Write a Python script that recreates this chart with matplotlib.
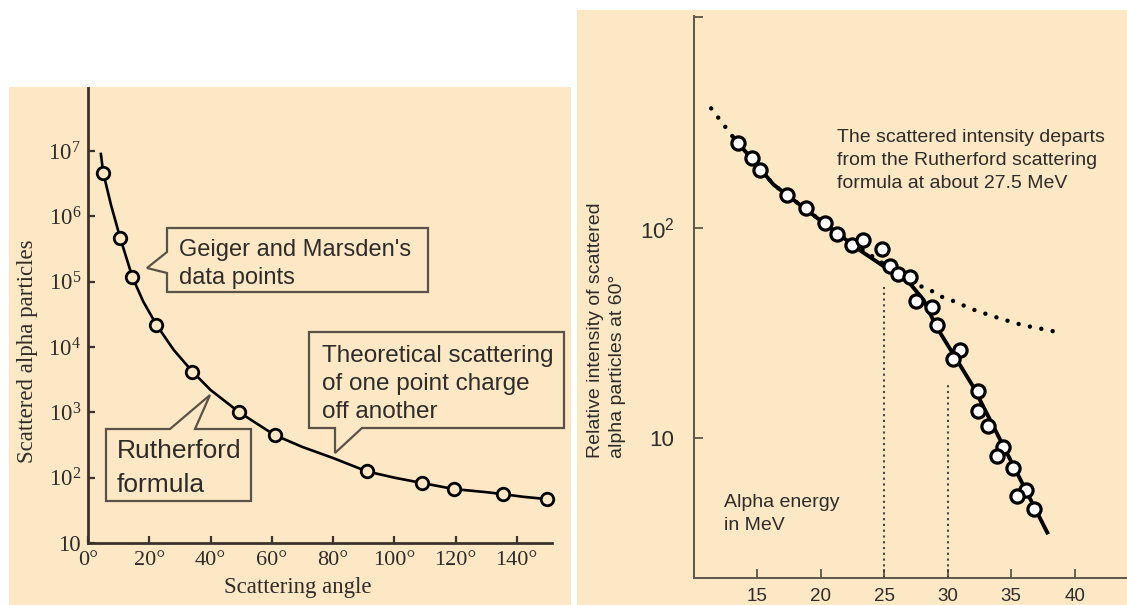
import matplotlib
matplotlib.use("Agg")
import matplotlib.pyplot as plt
from matplotlib.patches import Rectangle, Polygon
from matplotlib.ticker import NullLocator

W, H = 1127, 605
BEIGE = "#fde8c6"
INK = "#2e2b28"
AXIS_L = "#3b332b"
AXIS_R = "#5e564b"
BOX = "#5a5246"
SERIF = "Liberation Serif"
SANS = "Liberation Sans"

# ---- left panel: Geiger & Marsden data and Rutherford curve ----
gm_angle = [5.0, 10.5, 14.5, 22.3, 34.1, 49.4, 60.9, 91.0, 109.0, 119.4, 135.4, 149.8]
gm_counts = [4.6e6, 4.7e5, 1.17e5, 2.2e4, 4.2e3, 1.0e3, 450, 125, 83, 67, 56, 47]

formula_angle = [4.2, 5.0, 7.5, 10.5, 14.5, 18.0, 22.3, 28.0, 34.1, 40.0, 49.4,
                 60.9, 70.0, 80.0, 91.0, 100.0, 109.0, 119.4, 130.0, 135.4, 142.0, 149.8]
formula_counts = [9.0e6, 4.6e6, 1.5e6, 4.7e5, 1.17e5, 5.0e4, 2.2e4, 9.0e3, 4.2e3, 2.2e3, 1.0e3,
                  450, 295, 200, 125, 100, 83, 67, 60, 56, 51, 47]

angle_ticks = [0, 20, 40, 60, 80, 100, 120, 140]
angle_labels = ["0°", "20°", "40°", "60°", "80°", "100°", "120°", "140°"]
count_ticks = [10, 1e2, 1e3, 1e4, 1e5, 1e6, 1e7]
count_labels = ["10", r"$\mathregular{10^2}$", r"$\mathregular{10^3}$", r"$\mathregular{10^4}$",
                r"$\mathregular{10^5}$", r"$\mathregular{10^6}$", r"$\mathregular{10^7}$"]

# ---- right panel: intensity at 60 degrees vs alpha energy ----
energy = [13.53, 14.63, 15.24, 17.33, 18.85, 20.35, 21.31, 22.45, 23.31, 24.80,
          25.46, 26.11, 27.03, 27.48, 28.74, 29.13, 30.96, 30.39, 32.36, 32.41,
          33.15, 34.33, 33.90, 35.11, 36.15, 35.42, 36.78]
intensity = [253, 214, 187, 142, 124, 105, 93, 83, 87, 79,
             66, 60, 58, 45, 42, 34.5, 26.2, 23.7, 16.8, 13.5,
             11.4, 9.1, 8.2, 7.2, 5.7, 5.3, 4.6]

fit_energy = [13.1, 16.3, 20.0, 23.1, 24.8, 27.0, 28.1, 29.1, 30.4, 32.0, 37.9]
fit_intensity = [270, 160, 108, 78, 66.5, 54.5, 45.4, 33.9, 25.3, 17.6, 3.5]

ruth_energy = [11.4, 13.1, 16.3, 20.0, 23.1, 25.5, 27.6, 28.6, 29.5, 30.4,
               31.35, 32.3, 34.0, 35.9, 37.9, 38.7]
ruth_intensity = [368, 270, 160, 108, 80, 64, 53.5, 50.6, 47, 44.9,
                  42.4, 40.2, 37.2, 34.4, 32.6, 31.8]

cutoff_energy = [25, 30]
cutoff_top = [53, 17.9]

energy_ticks = [15, 20, 25, 30, 35, 40]
intensity_ticks = [10, 100, 1000]
intensity_labels = ["10", r"$\mathregular{10^2}$", ""]


def fx(x):
    return x / W


def fy(y):
    return 1 - y / H


fig = plt.figure(figsize=(W / 100, H / 100), dpi=100)
fig.patch.set_facecolor("white")

# panel backgrounds
fig.add_artist(Rectangle((fx(9), 0), fx(571) - fx(9), fy(87), transform=fig.transFigure,
                         fc=BEIGE, ec="none", zorder=-5))
fig.add_artist(Rectangle((fx(577), 0), 1 - fx(577), fy(10), transform=fig.transFigure,
                         fc=BEIGE, ec="none", zorder=-5))

# left axes
ax1 = fig.add_axes([fx(88), fy(543), fx(552) - fx(88), fy(88) - fy(543)])
ax1.patch.set_visible(False)
ax1.set_yscale("log")
ax1.set_xlim(0, 151.5)
ax1.set_ylim(10, 9.2e7)
ax1.plot(formula_angle, formula_counts, color="black", lw=1.9, zorder=3)
ax1.plot(gm_angle, gm_counts, "o", ms=9, mfc=BEIGE, mec="black", mew=2.0, zorder=4,
         clip_on=False)
ax1.set_xticks(angle_ticks, angle_labels, fontfamily=SERIF, fontsize=16, color=INK)
ax1.set_yticks(count_ticks, count_labels, fontfamily=SERIF, fontsize=16.5, color=INK)
ax1.yaxis.set_minor_locator(NullLocator())
ax1.tick_params(direction="in", length=5, width=1.6, color=AXIS_L)
ax1.tick_params(axis="x", pad=6)
ax1.tick_params(axis="y", pad=5)
for s in ("top", "right"):
    ax1.spines[s].set_visible(False)
for s in ("left", "bottom"):
    ax1.spines[s].set_linewidth(2.0)
    ax1.spines[s].set_color(AXIS_L)

fig.text(fx(28), fy(351), "Scattered alpha particles", rotation=90, ha="center",
         va="center", fontfamily=SERIF, fontsize=16.5, color=INK)
fig.text(fx(298), fy(588), "Scattering angle", ha="center", va="center",
         fontfamily=SERIF, fontsize=16.5, color=INK)

# right axes
ax2 = fig.add_axes([fx(694), fy(578), 1 - fx(694), fy(16) - fy(578)])
ax2.patch.set_visible(False)
ax2.set_yscale("log")
ax2.set_xlim(10.05, 44.1)
ax2.set_ylim(2.17, 1010)
ax2.vlines(cutoff_energy, 2.17, cutoff_top, colors="#333333", lw=1.3,
           linestyles=[(0, (1.2, 2.0))], zorder=2)
ax2.plot(ruth_energy, ruth_intensity, color="black", lw=3.2,
         linestyle=(0, (0.01, 2.6)), dash_capstyle="round", zorder=3)
ax2.plot(fit_energy, fit_intensity, color="black", lw=2.8, zorder=3,
         solid_capstyle="butt")
ax2.plot(energy, intensity, "o", ms=9.5, mfc="white", mec="black", mew=2.3, zorder=4)
ax2.set_xticks(energy_ticks, [str(t) for t in energy_ticks], fontfamily=SANS,
               fontsize=13.5, color=INK)
ax2.set_yticks(intensity_ticks, intensity_labels, fontfamily=SANS, fontsize=16, color=INK)
ax2.yaxis.set_minor_locator(NullLocator())
ax2.tick_params(direction="in", length=6.5, width=1.3, color=AXIS_R)
ax2.tick_params(axis="x", pad=7)
ax2.tick_params(axis="y", pad=14)
for s in ("top", "right"):
    ax2.spines[s].set_visible(False)
for s in ("left", "bottom"):
    ax2.spines[s].set_linewidth(1.4)
    ax2.spines[s].set_color(AXIS_R)

fig.text(fx(595), fy(458), "Relative intensity of scattered", rotation=90,
         ha="center", va="bottom", fontfamily=SANS, fontsize=14, color=INK)
fig.text(fx(617), fy(458), "alpha particles at 60°", rotation=90,
         ha="center", va="bottom", fontfamily=SANS, fontsize=14, color=INK)


def text_lines(x, y0, dy, lines, size, family=SANS):
    for i, s in enumerate(lines):
        fig.text(fx(x), fy(y0 + i * dy), s, ha="left", va="baseline",
                 fontfamily=family, fontsize=size, color=INK, zorder=6)


def callout(pts):
    fig.add_artist(Polygon([(fx(x), fy(y)) for x, y in pts], closed=True,
                           transform=fig.transFigure, fill=False, ec=BOX, lw=1.6,
                           joinstyle="miter", zorder=6))


# callouts on the left panel
callout([(167, 228), (428, 228), (428, 292), (167, 292), (167, 273), (147, 268), (167, 252)])
text_lines(179, 256, 28, ["Geiger and Marsden's", "data points"], 17)

callout([(106, 429), (170, 429), (210, 395), (195, 429), (251, 429), (251, 501), (106, 501)])
text_lines(117, 458, 34, ["Rutherford", "formula"], 19)

callout([(309, 332), (564, 332), (564, 428), (362, 428), (335, 453), (335, 428), (309, 428)])
text_lines(322, 362, 28, ["Theoretical scattering", "of one point charge", "off another"], 17.5)

# notes on the right panel
text_lines(837, 142, 23, ["The scattered intensity departs", "from the Rutherford scattering",
                          "formula at about 27.5 MeV"], 14)
text_lines(724, 507, 23, ["Alpha energy", "in MeV"], 14)

fig.savefig("out.png", dpi=100, facecolor="white")
